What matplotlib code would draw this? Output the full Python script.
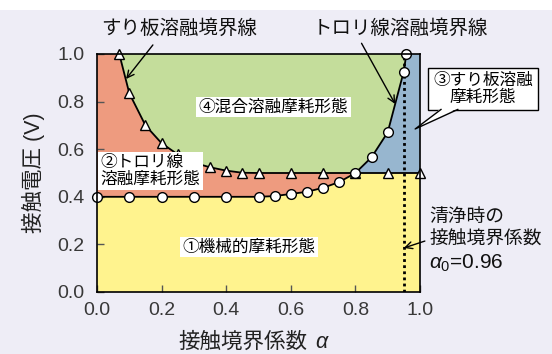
import matplotlib
matplotlib.use('Agg')
import matplotlib.pyplot as plt
from matplotlib.patches import Rectangle

plt.rcParams['font.family'] = ['Liberation Sans', 'Noto Sans CJK JP']
plt.rcParams['mathtext.fontset'] = 'custom'
plt.rcParams['mathtext.rm'] = 'Liberation Sans'
plt.rcParams['mathtext.it'] = 'Liberation Sans:italic'

# ---- data ----
# sliding-plate melting boundary (triangles)
plate_alpha = [0.069, 0.10, 0.15, 0.20, 0.25, 0.30, 0.35, 0.40, 0.45, 0.50, 0.60, 0.70, 0.80, 0.90, 1.00]
plate_volt = [1.00, 0.835, 0.70, 0.625, 0.578, 0.543, 0.524, 0.51, 0.501, 0.50, 0.50, 0.50, 0.50, 0.50, 0.50]
# trolley-wire melting boundary (circles)
wire_alpha = [0.0, 0.1, 0.2, 0.3, 0.4, 0.5, 0.55, 0.6, 0.65, 0.7, 0.75, 0.8, 0.85, 0.9, 0.949, 0.958]
wire_volt = [0.40, 0.40, 0.40, 0.40, 0.40, 0.40, 0.403, 0.412, 0.421, 0.438, 0.462, 0.50, 0.566, 0.671, 0.923, 1.00]
alpha0_pos = 0.95
alpha0_text = '0.96'
x_ticks = [0.0, 0.2, 0.4, 0.6, 0.8, 1.0]
y_ticks = [0.0, 0.2, 0.4, 0.6, 0.8, 1.0]
tick_labels = ['0.0', '0.2', '0.4', '0.6', '0.8', '1.0']

C_YELLOW = '#FFF38E'
C_RED = '#EE9B7F'
C_GREEN = '#C4DD9B'
C_BLUE = '#97B6CF'
C_BG = '#EEEDF6'

fig = plt.figure(figsize=(5.52, 3.54), dpi=100, facecolor=C_BG)
fig.patches.append(Rectangle((0, 1 - 10 / 354), 1, 10 / 354, transform=fig.transFigure,
                             facecolor='white', edgecolor='none', zorder=0))
ax = fig.add_axes([97 / 552, 1 - 292 / 354, 323 / 552, 238 / 354])
ax.set_facecolor(C_YELLOW)
ax.set_xlim(0, 1)
ax.set_ylim(0, 1)
top = ax.get_ylim()[1]
right = ax.get_xlim()[1]

# crossing index where the wire curve meets the plate plateau
plateau = plate_volt[-1]
wi = next(i for i, v in enumerate(wire_volt) if v >= plateau)
pi = max(i for i, a in enumerate(plate_alpha) if a <= wire_alpha[wi])

# red: above wire curve
ax.fill(wire_alpha + [wire_alpha[0]], wire_volt + [top], color=C_RED, lw=0, zorder=1)
# blue: right of wire curve above plateau
ax.fill(wire_alpha[wi:] + [right, right], wire_volt[wi:] + [top, plateau], color=C_BLUE, lw=0, zorder=1)
# green: above plate curve and left of wire curve
ax.fill(plate_alpha[:pi + 1] + wire_alpha[wi:], plate_volt[:pi + 1] + wire_volt[wi:],
        color=C_GREEN, lw=0, zorder=2)

# dotted alpha0 line
ax.axvline(alpha0_pos, color='black', ls=(0, (1, 1.2)), lw=2.0, zorder=3)

# boundary curves
ax.plot(plate_alpha, plate_volt, color='black', lw=1.3, zorder=4)
ax.plot(wire_alpha, wire_volt, color='black', lw=1.3, zorder=4)
ax.plot(plate_alpha, plate_volt, ls='none', marker='^', ms=7.5, mfc='white', mec='black',
        mew=1.0, zorder=5, clip_on=False)
ax.plot(wire_alpha, wire_volt, ls='none', marker='o', ms=7, mfc='white', mec='black',
        mew=1.0, zorder=6, clip_on=False)

# axes styling
ax.set_xticks(x_ticks)
ax.set_xticklabels(tick_labels)
ax.set_yticks(y_ticks)
ax.set_yticklabels(tick_labels)
ax.tick_params(direction='in', length=5, width=1, labelsize=14, labelcolor='#383838', color='#555555')
ax.tick_params(axis='x', pad=7)
ax.tick_params(axis='y', pad=9)
for s in ax.spines.values():
    s.set_linewidth(1.2)
    s.set_zorder(7)

# axis labels
fig.text(33 / 552, 1 - 173 / 354, '接触電圧 (V)', rotation=90, ha='center', va='center',
         fontsize=15.5, color='#222222')
t1 = fig.text(178 / 552, 1 - 342 / 354, '接触境界係数', ha='left', va='center', fontsize=15.5,
              color='#222222')
ax.annotate('α', xy=(1, 0.5), xycoords=t1, xytext=(6, 0), textcoords='offset points',
            ha='left', va='center', fontsize=15.5, style='italic', color='#222222')

# region labels
box = dict(boxstyle='square,pad=0.15', fc='white', ec='none')
ax.text(0.546, 0.777, '④混合溶融摩耗形態', ha='center', va='center', fontsize=12, bbox=box, zorder=8)
ax.text(0.012, 0.508, '②トロリ線\n溶融摩耗形態', ha='left', va='center', fontsize=12,
        linespacing=1.15, bbox=box, zorder=8)
ax.text(0.47, 0.189, '①機械的摩耗形態', ha='center', va='center', fontsize=12, bbox=box, zorder=8)

# callout (3) with speech-bubble tail
ax.text(1.195, 0.853, '③すり板溶融\n摩耗形態', ha='center', va='center', transform=ax.transAxes,
        fontsize=12, linespacing=1.15, multialignment='center',
        bbox=dict(boxstyle='square,pad=0.3', fc='white', ec='black', lw=1.0), zorder=8,
        clip_on=False)
tip = (0.985, 0.685)
base_l = (1.065, 0.772)
base_r = (1.117, 0.772)
ax.fill([base_l[0], tip[0], base_r[0]], [base_l[1], tip[1], base_r[1]], transform=ax.transAxes,
        fc='white', ec='none', zorder=9, clip_on=False)
ax.plot([base_l[0], tip[0], base_r[0]], [base_l[1] - 0.005, tip[1], base_r[1] - 0.005],
        transform=ax.transAxes, color='black', lw=1.0, zorder=9, clip_on=False)

# boundary-line labels
arrow = dict(arrowstyle='->,head_length=0.5,head_width=0.25', color='black', lw=1.0,
             shrinkA=0, shrinkB=0)
ax.text(0.254, 1.105, 'すり板溶融境界線', ha='center', va='center', fontsize=14,
        transform=ax.transAxes, color='#111111')
ax.annotate('', xy=(0.09, 0.895), xytext=(0.173, 1.038), arrowprops=arrow,
            annotation_clip=False, zorder=9)
ax.text(0.938, 1.105, 'トロリ線溶融境界線', ha='center', va='center', fontsize=14,
        transform=ax.transAxes, color='#111111')
ax.annotate('', xy=(0.923, 0.79), xytext=(0.819, 1.045), arrowprops=arrow,
            annotation_clip=False, zorder=9)

# alpha0 annotation
ax.text(1.028, 0.311, '清浄時の', ha='left', va='center', fontsize=13.5, transform=ax.transAxes,
        color='#111111')
ax.text(1.028, 0.218, '接触境界係数', ha='left', va='center', fontsize=13.5, transform=ax.transAxes,
        color='#111111')
ax.text(1.028, 0.122, r'$\alpha_{0}$=' + alpha0_text, ha='left', va='center', fontsize=15,
        transform=ax.transAxes, color='#111111')
ax.annotate('', xy=(alpha0_pos, 0.185), xytext=(1.015, 0.214), arrowprops=arrow,
            annotation_clip=False, zorder=9)

fig.savefig('out.png', dpi=100, facecolor=fig.get_facecolor())
